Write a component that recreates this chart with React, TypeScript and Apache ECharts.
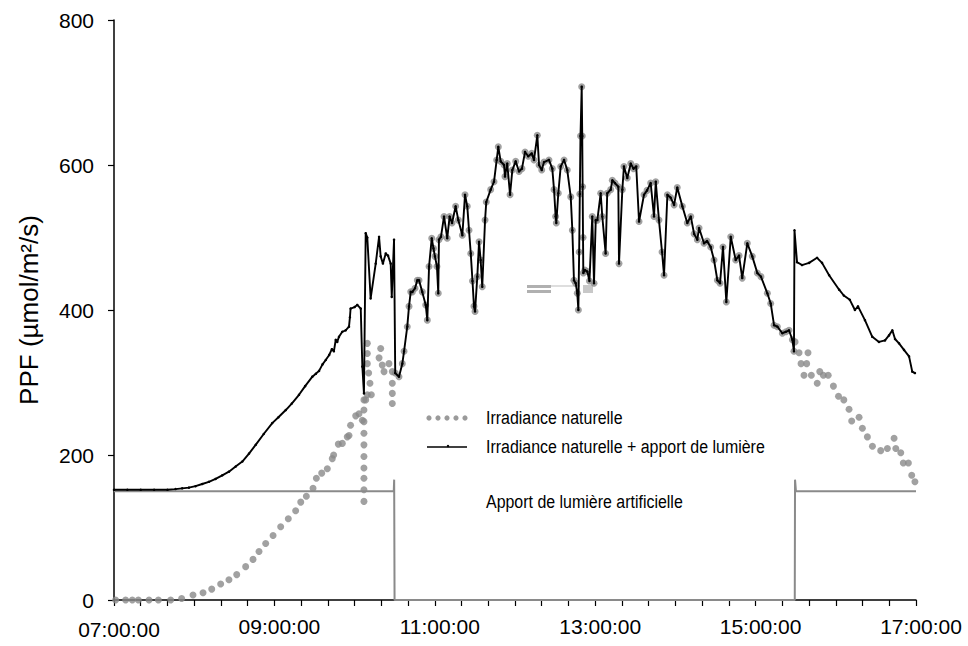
import React, { useEffect, useRef } from "react";
import * as echarts from "echarts";

// time = minutes after 07:00:00
const artificialLight: [number, number][] = [
  [0, 150], [209.3, 150], [209.6, 166], [209.9, 0], [509.3, 0], [509.5, 166], [510.2, 150], [600, 150],
];

const totalMorning: [number, number][] = [
  [0, 152], [10, 152], [20, 152], [30, 152], [40, 152], [46, 153], [51, 154], [56, 155], [61, 157], [66, 160],
  [71, 163], [76, 167], [81, 172], [86, 177], [91, 184], [96, 191], [101, 202], [106, 214], [112, 229], [118.4, 244],
  [123, 252], [128.5, 262], [133, 271], [138.4, 283], [143, 295], [148.4, 308], [151, 312], [153.4, 316], [156, 325],
  [158.4, 331], [161, 338], [163, 346], [164.5, 343], [165.9, 359], [167, 356], [168.3, 363], [170.8, 370], [173.3, 372],
  [175.8, 377], [176.5, 390], [177, 402], [180, 404], [182, 407], [184.6, 402], [185.8, 322], [187, 285], [188.3, 506],
  [189.5, 500], [192, 416], [195.8, 464], [198.3, 501], [199.5, 474], [201.2, 464], [203.3, 478], [205, 475], [207, 464],
  [207.8, 418], [209.5, 497],
];

// 10:30 - 15:30 : no artificial light, both curves are the same
const midDay: [number, number][] = [
  [210.4, 313], [213.2, 308], [215.7, 326], [217, 343], [219.4, 377], [220.7, 405], [222, 425], [223.2, 425], [225.2, 430],
  [226.9, 441], [228.2, 441], [230.6, 425], [233.2, 407], [234.4, 386], [235.7, 460], [237.7, 499], [239, 485], [240.1, 474],
  [241.6, 460], [242.6, 423], [243.1, 497], [244.6, 501], [246.9, 529], [249.3, 499], [251.1, 529], [252.9, 520], [255.6, 543],
  [257.6, 524], [260.6, 503], [262.6, 559], [264.3, 543], [265.6, 510], [266.9, 478], [268.2, 440], [269.3, 405], [270.1, 398],
  [271.8, 446], [273.1, 494], [274.3, 469], [275.5, 432], [277.6, 524], [278.5, 549], [281.8, 566], [284.3, 577], [286.3, 607],
  [287.5, 625], [289.3, 605], [291.8, 600], [292.5, 584], [294.2, 602], [296.3, 559], [298, 593], [300.5, 605], [303, 591],
  [305.2, 595], [307.5, 618], [309.9, 612], [312.5, 616], [314.2, 607], [316.7, 641], [318, 600], [320, 593], [321.7, 604],
  [325.4, 607], [327.9, 595], [329.2, 566], [330.4, 529], [330.9, 520], [332.4, 561], [334.2, 598], [336.7, 607], [339.1, 593],
  [341.7, 556], [342.9, 510], [344.1, 441], [345.4, 437], [346.6, 423], [347.4, 400], [348, 480], [348.5, 560], [349, 640],
  [349.9, 708], [350.3, 640], [350.6, 570], [350.9, 500], [351.1, 451], [352.3, 455], [354.1, 453], [355.7, 440], [357.8, 529],
  [359.1, 437], [360.4, 524], [361.6, 524], [364.1, 561], [365.3, 529], [367.8, 478], [369, 561], [371.6, 566], [372.8, 579],
  [374.8, 575], [377.3, 570], [377.8, 464], [380.3, 566], [381.5, 598], [384, 582], [386.6, 602], [388.6, 595], [390.7, 598],
  [392.8, 522], [396.5, 559], [398.8, 565], [401.5, 575], [404, 529], [405.3, 577], [407.7, 524], [410, 480], [411.5, 448],
  [414, 559], [416.4, 555], [419, 545], [421.4, 569], [425.2, 543], [428.9, 520], [431.5, 529], [434, 505], [436.4, 497],
  [437.7, 513], [441.4, 492], [443.7, 495], [446.4, 487], [448.9, 469], [451.4, 441], [453.4, 437], [455.6, 487], [458.1, 411],
  [461.4, 501], [465.1, 469], [467.6, 475], [470, 444], [473.8, 492], [477.5, 474], [481.3, 451], [484, 446], [488.8, 423],
  [491.3, 409], [493.8, 379], [496.3, 377], [500, 368], [502.7, 370], [505, 372], [507.5, 359], [508.7, 343],
];

const totalEvening: [number, number][] = [
  [509.1, 510], [511, 466], [514.7, 462], [520, 465], [526, 472], [529.7, 465], [535, 448], [542.5, 428], [546, 420],
  [550.5, 414], [554.3, 400], [556.6, 405], [561.8, 386], [567.3, 363], [572.3, 356], [576.8, 358], [579.8, 365],
  [582.3, 372], [584.3, 360], [587.3, 354], [591, 345], [594.8, 336], [597.2, 315], [599.2, 313],
];

const naturalMorning: [number, number][] = [
  [1.2, 0], [8.7, 0], [13.7, 0], [18.2, 0], [26.2, 0], [33.2, 0], [42.4, 0], [50.6, 2], [59.1, 7], [66.6, 10], [73.1, 15],
  [79.8, 22], [86, 28], [91.8, 35], [98.5, 46], [104, 56], [108.5, 67], [113.5, 78], [119, 89], [124.7, 101], [130.4, 112],
  [135.9, 123], [139.7, 135], [143.9, 143], [148.9, 154], [151.4, 168], [155.4, 175], [159.6, 181], [163.3, 195], [164.3, 200],
  [167.8, 215], [170.8, 216], [174.5, 225], [175.8, 227], [177, 241], [180.8, 254], [183.3, 257], [185.8, 248], [187, 276],
  [187, 262], [187, 246], [187, 230], [187, 214], [187, 198], [187, 182], [187, 168], [187, 152], [187, 136], [188.3, 276],
  [189.5, 283], [189.5, 326], [189.5, 340], [189.5, 354], [190.5, 313], [191.5, 299], [192.5, 283], [198.3, 334], [199.5, 347],
  [200.7, 324], [202, 315], [205.7, 326], [208.2, 315], [208.2, 299], [208.2, 285], [208.2, 271],
];

const naturalEvening: [number, number][] = [
  [509.5, 356], [512.5, 341], [514, 326], [516.2, 310], [518.2, 326], [519.2, 341], [521.7, 310], [526.1, 299], [528, 315],
  [530.7, 310], [534.3, 310], [538.2, 295], [542, 281], [546, 276], [549.9, 263], [551.9, 247], [557.4, 252], [559.9, 237],
  [563.6, 225], [567.4, 212], [573.6, 206], [578.6, 209], [583.6, 223], [584.9, 209], [588.6, 203], [590.5, 189], [594.3, 189],
  [596.8, 172], [599.2, 163],
];

const legendLabels = [
  "Irradiance naturelle",
  "Irradiance naturelle + apport de lumière",
  "Apport de lumière artificielle",
];
const yTitle = "PPF (µmol/m²/s)";
const firstTimeLabel = "07:00:00";

const fmtTime = (v: number) => {
  const h = 7 + Math.round(v / 60);
  return (h < 10 ? "0" : "") + h + ":00:00";
};

export default function App() {
  const ref = useRef<HTMLDivElement>(null);
  useEffect(() => {
    if (!ref.current) return;
    const chart = echarts.init(ref.current, null, { renderer: "svg" });
    const sans = "'Liberation Sans', Arial, sans-serif";
    const legendFont = `19px ${sans}`;
    chart.setOption({
      animation: false,
      backgroundColor: "#ffffff",
      grid: { left: 114, right: 52, top: 20, bottom: 46 },
      xAxis: {
        type: "value",
        min: 0,
        max: 600,
        interval: 20,
        axisLine: { lineStyle: { color: "#000", width: 1.5 } },
        axisTick: { length: 6, lineStyle: { color: "#000", width: 1.2 } },
        splitLine: { show: false },
        axisLabel: {
          color: "#000",
          fontSize: 21,
          fontFamily: sans,
          margin: 16,
          padding: [0, 0, 0, 10],
          showMaxLabel: true,
          formatter: (v: number) => (v % 120 === 0 && v > 0 ? fmtTime(v) : ""),
        },
      },
      yAxis: {
        type: "value",
        min: 0,
        max: 800,
        interval: 200,
        name: yTitle,
        nameLocation: "middle",
        nameRotate: 90,
        nameGap: 72,
        nameTextStyle: { color: "#000", fontSize: 26, fontFamily: sans },
        axisLine: { show: true, lineStyle: { color: "#000", width: 1.5 } },
        axisTick: { show: true, length: 6, lineStyle: { color: "#000", width: 1.2 } },
        splitLine: { show: false },
        axisLabel: { color: "#000", fontSize: 21, fontFamily: sans, margin: 20 },
      },
      series: [
        {
          name: legendLabels[0],
          type: "scatter",
          symbol: "circle",
          symbolSize: 7,
          itemStyle: { color: "#8a8a8a" },
          data: [...naturalMorning, ...midDay, ...naturalEvening],
          z: 2,
        },
        {
          name: legendLabels[2],
          type: "line",
          symbol: "none",
          lineStyle: { color: "#8a8a8a", width: 2 },
          data: artificialLight,
          z: 3,
        },
        {
          name: legendLabels[1],
          type: "line",
          symbol: "circle",
          symbolSize: 2.5,
          showSymbol: true,
          showAllSymbol: true,
          itemStyle: { color: "#000" },
          lineStyle: { color: "#000", width: 1.9 },
          data: [...totalMorning, ...midDay, ...totalEvening],
          z: 4,
        },
      ],
      graphic: [
        {
          type: "text", x: 119, y: 619,
          style: { text: firstTimeLabel, fill: "#000", font: `21px ${sans}`, align: "center", verticalAlign: "top" },
        },
        ...[0, 1, 2, 3, 4].map((i) => ({
          type: "circle",
          shape: { cx: 429 + i * 9, cy: 418, r: 2.6 },
          style: { fill: "#9a9a9a" },
        })),
        { type: "line", shape: { x1: 427, y1: 447, x2: 467, y2: 447 }, style: { stroke: "#000", lineWidth: 1.5 } },
        { type: "circle", shape: { cx: 448, cy: 446, r: 1.2 }, style: { fill: "#000" } },
        {
          type: "text", x: 486, y: 418, scaleX: 0.84,
          style: { text: legendLabels[0], fill: "#000", font: legendFont, verticalAlign: "middle" },
        },
        {
          type: "text", x: 486, y: 447, scaleX: 0.84,
          style: { text: legendLabels[1], fill: "#000", font: legendFont, verticalAlign: "middle" },
        },
        {
          type: "text", x: 486, y: 502, scaleX: 0.84,
          style: { text: legendLabels[2], fill: "#000", font: legendFont, verticalAlign: "middle" },
        },
        // small stray legend artefact inside the plot
        { type: "rect", shape: { x: 527, y: 285, width: 24, height: 3 }, style: { fill: "#b0b0b0" } },
        { type: "rect", shape: { x: 527, y: 290, width: 24, height: 3 }, style: { fill: "#b0b0b0" } },
        { type: "line", shape: { x1: 551, y1: 286, x2: 580, y2: 286 }, style: { stroke: "#bdbdbd", lineWidth: 1 } },
        { type: "rect", shape: { x: 583, y: 285, width: 10, height: 8 }, style: { fill: "#c8c8c8" } },
      ],
    });
    return () => chart.dispose();
  }, []);
  return (
    <div
      ref={ref}
      style={{ position: "absolute", left: 0, top: 0, width: 968, height: 646, background: "#fff" }}
    />
  );
}
